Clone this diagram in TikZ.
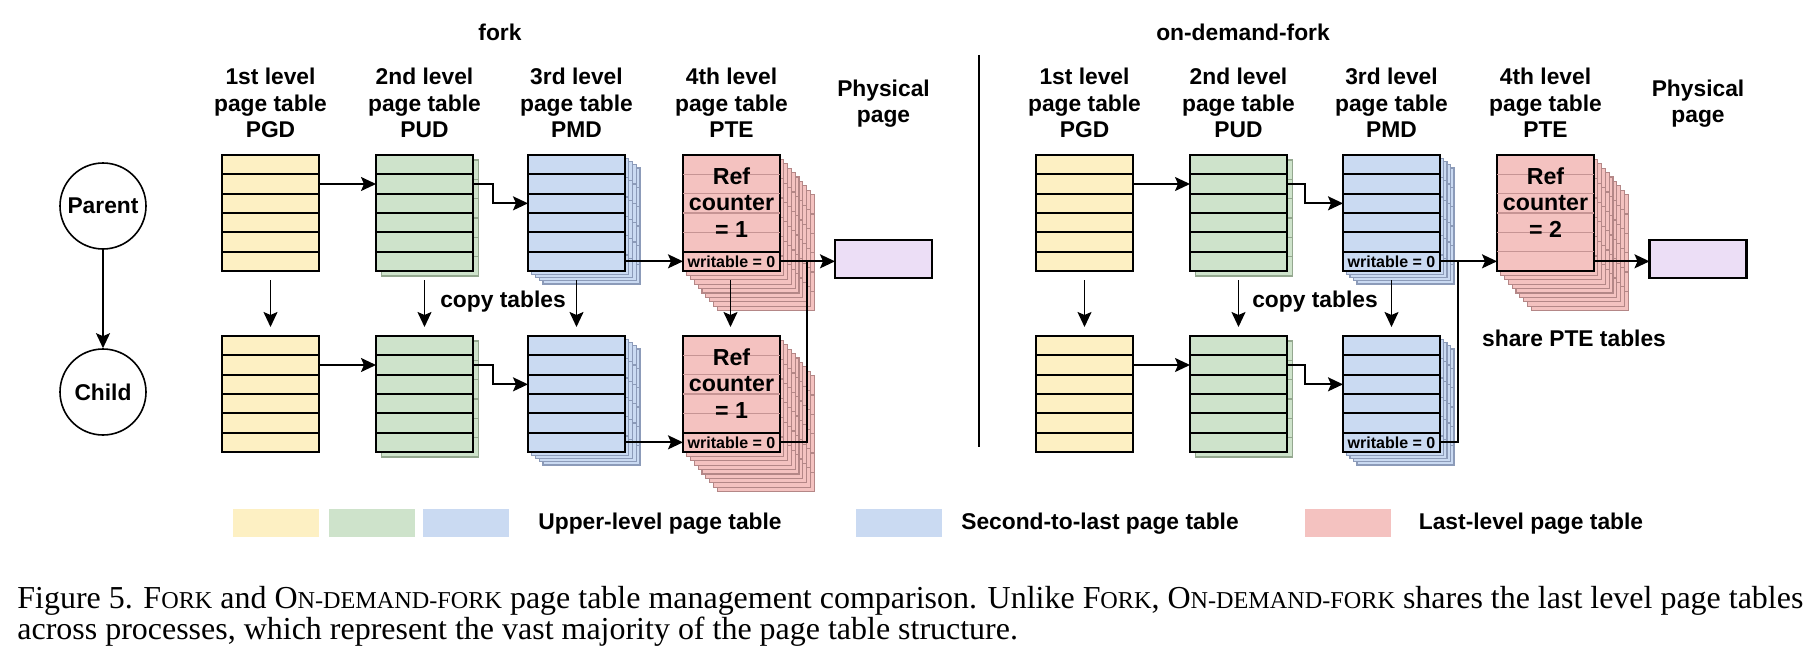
\documentclass[tikz,border=0pt]{standalone}
\usepackage{fontspec}
\usepackage{graphicx}
\usetikzlibrary{arrows.meta,calc}
\newfontfamily\arialf{Liberation Sans}
\newfontfamily\timesf{Liberation Serif}
\newcommand\lblfont{\arialf\bfseries\fontsize{11.4}{13.25}\selectfont}
\newcommand\smallfont{\arialf\bfseries\fontsize{8}{9}\selectfont}
\newcommand\capfont{\timesf\fontsize{14}{13.4}\selectfont}
\newcommand\smc[1]{{\fontsize{10.6}{13.4}\selectfont #1}}
\definecolor{ycol}{RGB}{253,240,195}
\definecolor{gcol}{RGB}{206,227,203}
\definecolor{bcol}{RGB}{202,218,242}
\definecolor{rcol}{RGB}{244,194,192}
\definecolor{pcol}{RGB}{236,222,246}
\definecolor{ysh}{RGB}{190,180,140}
\definecolor{gsh}{RGB}{148,168,143}
\definecolor{bsh}{RGB}{140,155,185}
\definecolor{rsh}{RGB}{180,135,135}
\definecolor{ptefaint}{RGB}{198,148,148}
\tikzset{
  tbl/.style={draw=black, line width=1.15pt, minimum width=48.5pt, minimum height=58pt, inner sep=0pt, outer sep=0pt, anchor=north west},
  rowl/.style={line width=1pt, draw=black},
  faint/.style={line width=0.7pt, draw=ptefaint},
  arr/.style={line width=0.9pt, -{Stealth[length=7.5pt,width=7pt,inset=1.5pt]}},
  conn/.style={line width=0.9pt},
  lbl/.style={font=\lblfont, align=center, inner sep=0pt},
  wlbl/.style={font=\smallfont, inner sep=0pt},
  physbox/.style={draw=black, line width=1.15pt, fill=pcol, minimum width=48.5pt, minimum height=19pt, inner sep=0pt, outer sep=0pt},
  legbox/.style={fill=#1, minimum width=43pt, minimum height=14pt, inner sep=0pt},
  proc/.style={circle, draw=black, line width=0.8pt, minimum size=43pt, inner sep=0pt, font=\lblfont},
}
% name, left x, top y, fill, sheet colour, number of sheets, dx, dy
\newcommand{\pgtable}[8]{%
  \ifnum#6>0\relax
    \foreach \kk in {#6,...,1}{%
      \draw[draw=#5, fill=#4, line width=0.6pt, shift={(\kk*#7,\kk*#8)}] (#2,#3) rectangle ++(97,116);
      \foreach \ri in {1,...,5}{\draw[draw=#5, line width=0.6pt, shift={(\kk*#7,\kk*#8)}] (#2,#3+\ri*19.333) -- ++(97,0);}
    }%
  \fi
  \node[tbl, fill=#4] (#1) at (#2,#3) {};
  \foreach \ri in {1,...,6}{%
    \coordinate (#1-\ri-W) at (#2,#3+\ri*19.333-9.667);
    \coordinate (#1-\ri-E) at (#2+97,#3+\ri*19.333-9.667);
    \coordinate (#1-\ri-C) at (#2+48.5,#3+\ri*19.333-9.667);
  }%
}
\newcommand{\rowlines}[3]{%
  \foreach \ri in {#3}{\draw[#2] ($(#1.north west)+(0,\ri*19.333)$) -- ++(97,0);}%
}
\begin{document}
\begin{tikzpicture}[x=0.5pt,y=-0.5pt]
\fill[white] (0,0) rectangle (1818,658);
\useasboundingbox (0,0) rectangle (1818,658);

% ---------- titles ----------
\node[lbl] (tfork) at (500,32) {fork};
\node[lbl] (todf) at (1243,32) {on-demand-fork};
\coordinate (sepT) at (979,55);
\coordinate (sepB) at (979,447);
\draw[line width=1.1pt] (sepT) -- (sepB);

\node[lbl] (hA1) at (270.5,103) {1st level\\page table\\PGD};
\node[lbl] (hA2) at (424.5,103) {2nd level\\page table\\PUD};
\node[lbl] (hA3) at (576.5,103) {3rd level\\page table\\PMD};
\node[lbl] (hA4) at (731.5,103) {4th level\\page table\\PTE};
\node[lbl] (hA5) at (883.5,103.5) {Physical\\page};
\node[lbl] (hB1) at (1084.5,103) {1st level\\page table\\PGD};
\node[lbl] (hB2) at (1238.5,103) {2nd level\\page table\\PUD};
\node[lbl] (hB3) at (1391.5,103) {3rd level\\page table\\PMD};
\node[lbl] (hB4) at (1545.5,103) {4th level\\page table\\PTE};
\node[lbl] (hB5) at (1698,103.5) {Physical\\page};

% ---------- processes ----------
\node[proc] (parent) at (103,206) {Parent};
\node[proc] (child) at (103,392) {Child};
\draw[arr] (parent) -- (child);

% ---------- fork tables ----------
\pgtable{pgdA}{222}{155}{ycol}{ysh}{0}{0}{0}
\pgtable{pudA}{376}{155}{gcol}{gsh}{1}{5.5}{5}
\pgtable{pmdA}{528}{155}{bcol}{bsh}{4}{3.75}{3.25}
\pgtable{pteA}{683}{155}{rcol}{rsh}{9}{3.8}{4.4}
\pgtable{pgdB}{222}{336}{ycol}{ysh}{0}{0}{0}
\pgtable{pudB}{376}{336}{gcol}{gsh}{1}{5.5}{5}
\pgtable{pmdB}{528}{336}{bcol}{bsh}{4}{3.75}{3.25}
\pgtable{pteB}{683}{336}{rcol}{rsh}{9}{3.8}{4.4}
\rowlines{pgdA}{rowl}{1,...,5}
\rowlines{pudA}{rowl}{1,...,5}
\rowlines{pmdA}{rowl}{1,...,5}
\rowlines{pteA}{faint}{1,...,4}
\rowlines{pteA}{rowl}{5}
\rowlines{pgdB}{rowl}{1,...,5}
\rowlines{pudB}{rowl}{1,...,5}
\rowlines{pmdB}{rowl}{1,...,5}
\rowlines{pteB}{faint}{1,...,4}
\rowlines{pteB}{rowl}{5}
\node[lbl, font=\arialf\bfseries\fontsize{11.6}{13.25}\selectfont] (refA) at ($(pteA-3-C)+(0,-1)$) {Ref\\counter\\= 1};
\node[lbl, font=\arialf\bfseries\fontsize{11.6}{13.25}\selectfont] (refB) at ($(pteB-3-C)+(0,-1)$) {Ref\\counter\\= 1};
\node[wlbl] (wA) at (pteA-6-C) {writable = 0};
\node[wlbl] (wB) at (pteB-6-C) {writable = 0};
\node[physbox] (physA) at (883.5,259) {};

% ---------- on-demand-fork tables ----------
\pgtable{pgdC}{1036}{155}{ycol}{ysh}{0}{0}{0}
\pgtable{pudC}{1190}{155}{gcol}{gsh}{1}{5.5}{5}
\pgtable{pmdC}{1343}{155}{bcol}{bsh}{4}{3.5}{3.25}
\pgtable{pteC}{1497}{155}{rcol}{rsh}{9}{3.8}{4.4}
\pgtable{pgdD}{1036}{336}{ycol}{ysh}{0}{0}{0}
\pgtable{pudD}{1190}{336}{gcol}{gsh}{1}{5.5}{5}
\pgtable{pmdD}{1343}{336}{bcol}{bsh}{4}{3.5}{3.25}
\rowlines{pgdC}{rowl}{1,...,5}
\rowlines{pudC}{rowl}{1,...,5}
\rowlines{pmdC}{rowl}{1,...,5}
\rowlines{pteC}{faint}{1,...,5}
\rowlines{pgdD}{rowl}{1,...,5}
\rowlines{pudD}{rowl}{1,...,5}
\rowlines{pmdD}{rowl}{1,...,5}
\node[lbl, font=\arialf\bfseries\fontsize{11.6}{13.25}\selectfont] (refC) at ($(pteC-3-C)+(0,-1)$) {Ref\\counter\\= 2};
\node[wlbl] (wC) at (pmdC-6-C) {writable = 0};
\node[wlbl] (wD) at (pmdD-6-C) {writable = 0};
\node[physbox] (physC) at (1698,259) {};

% ---------- fork connectors ----------
\draw[arr] (pgdA-2-E) -- (pudA-2-W);
\draw[arr] (pudA-2-E) -- ++(20,0) |- (pmdA-3-W);
\draw[arr] (pmdA-6-E) -- (pteA-6-W);
\draw[arr] (pteA-6-E) -- (pteA-6-E -| physA.west);
\draw[arr] (pgdB-2-E) -- (pudB-2-W);
\draw[arr] (pudB-2-E) -- ++(20,0) |- (pmdB-3-W);
\draw[arr] (pmdB-6-E) -- (pteB-6-W);
\coordinate (jA) at ($(pteA-6-E)+(27,0)$);
\draw[conn] (pteB-6-E) -| (jA);
\draw[arr] ($(pgdA.south)+(0,9)$) -- ($(pgdB.north)+(0,-9)$);
\draw[arr] ($(pudA.south)+(0,9)$) -- ($(pudB.north)+(0,-9)$);
\draw[arr] ($(pmdA.south)+(0,9)$) -- ($(pmdB.north)+(0,-9)$);
\draw[arr] ($(pteA.south)+(-1,9)$) -- ($(pteB.north)+(-1,-9)$);
\node[lbl] (copyA) at (503,302) {copy tables};

% ---------- on-demand-fork connectors ----------
\draw[arr] (pgdC-2-E) -- (pudC-2-W);
\draw[arr] (pudC-2-E) -- ++(18,0) |- (pmdC-3-W);
\draw[arr] (pmdC-6-E) -- (pteC-6-W);
\draw[arr] (pteC-6-E) -- (pteC-6-E -| physC.west);
\draw[arr] (pgdD-2-E) -- (pudD-2-W);
\draw[arr] (pudD-2-E) -- ++(18,0) |- (pmdD-3-W);
\coordinate (jC) at ($(pmdC-6-E)+(18,0)$);
\draw[conn] (pmdD-6-E) -| (jC);
\draw[arr] ($(pgdC.south)+(0,9)$) -- ($(pgdD.north)+(0,-9)$);
\draw[arr] ($(pudC.south)+(0,9)$) -- ($(pudD.north)+(0,-9)$);
\draw[arr] ($(pmdC.south)+(0,9)$) -- ($(pmdD.north)+(0,-9)$);
\node[lbl] (copyC) at (1315,302) {copy tables};
\node[lbl] (share) at (1574,338) {share PTE tables};

% ---------- legend ----------
\node[legbox=ycol] (lgY) at (276,523) {};
\node[legbox=gcol] (lgG) at (371.5,523) {};
\node[legbox=bcol] (lgB) at (466,523) {};
\node[lbl] (lgT1) at (660,524) {Upper-level page table};
\node[legbox=bcol] (lgB2) at (898.5,523) {};
\node[lbl] (lgT2) at (1100,524) {Second-to-last page table};
\node[legbox=rcol] (lgR) at (1348,523) {};
\node[lbl] (lgT3) at (1531,524) {Last-level page table};

% ---------- caption ----------
\node[anchor=base west, inner sep=0pt] (cap) at (17,608) {\resizebox{893pt}{!}{\capfont\begin{tabular}[t]{@{}l@{}}Figure 5. F\smc{ORK} and O\smc{N-DEMAND-FORK} page table management comparison. Unlike F\smc{ORK}, O\smc{N-DEMAND-FORK} shares the last level page tables\\across processes, which represent the vast majority of the page table structure.\end{tabular}}};
\end{tikzpicture}
\end{document}
